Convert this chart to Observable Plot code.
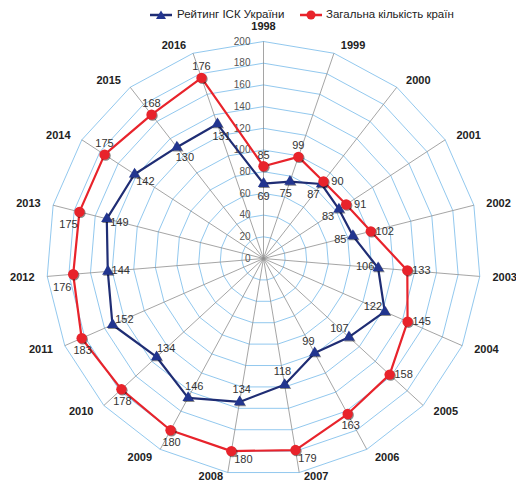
<!DOCTYPE html>
<html><head><meta charset="utf-8">
<script src="https://cdn.jsdelivr.net/npm/d3@7"></script>
<script src="https://cdn.jsdelivr.net/npm/@observablehq/plot@0.6"></script>
<style>
body{margin:0;background:#fff;font-family:"Liberation Sans",Arial,sans-serif}
#legend{position:relative;height:18px;z-index:2;font-size:11.5px;color:#222}
#legend span{position:absolute;white-space:nowrap}
</style>
</head><body>
<div id="legend"></div>
<div id="chart"></div>
<script>
const years = ["1998","1999","2000","2001","2002","2003","2004","2005","2006","2007","2008","2009","2010","2011","2012","2013","2014","2015","2016"];
const rating = [69,75,87,83,85,106,122,107,99,118,134,146,134,152,144,149,142,130,131];
const countries = [85,99,90,91,102,133,145,158,163,179,180,180,178,183,176,175,175,168,176];
const ticks = [0,20,40,60,80,100,120,140,160,180,200];
const seriesNames = ["Рейтинг ІСК України","Загальна кількість країн"];

const BLUE = "#1f2d74", BLUE_FILL = "#22358f", RED = "#e8232b";
const N = years.length;
const PX = 217/200; // pixels per value unit
const ang = i => i * 2 * Math.PI / N;
const pol = (v, i) => ({x: v * Math.sin(ang(i)), y: v * Math.cos(ang(i))});

// legend
const lg = document.getElementById("legend");
lg.innerHTML = `
<span style="left:148px;top:9px"><svg width="26" height="12"><line x1="2" y1="6" x2="24" y2="6" stroke="${BLUE}" stroke-width="2.5"/><path d="M13,1.5 L18,10 L8,10Z" fill="${BLUE_FILL}"/></svg></span>
<span style="left:177px;top:8px">${seriesNames[0]}</span>
<span style="left:298px;top:9px"><svg width="26" height="12"><line x1="2" y1="6" x2="24" y2="6" stroke="${RED}" stroke-width="2.5"/><circle cx="13" cy="6" r="4.5" fill="${RED}"/></svg></span>
<span style="left:326px;top:8px">${seriesNames[1]}</span>`;

// grid rings
const rings = [];
ticks.filter(t => t > 0).forEach(t => {
  for (let i = 0; i <= N; i++) rings.push({t, ...pol(t, i % N)});
});
const spokes = years.map((y, i) => ({...pol(200, i)}));

const mk = (vals) => vals.map((v, i) => ({i, v, ...pol(v, i)}));
const blue = mk(rating), red = mk(countries);
const closed = a => a.concat([a[0]]);

// label offsets (pixels)
function redOff(i) {
  const d = ang(i) * 180 / Math.PI;
  if (d < 30 || d >= 300) return [0, -11];
  if (d < 145) return [14, 0];
  if (d < 160) return [3, 11];
  if (d < 200) return [12, 8];
  if (d < 255) return [1, 12];
  return [-11, 13];
}
function blueOff(i) {
  const a = ang(i);
  return [-13 * Math.sin(a), 13 * Math.cos(a)];
}
const lab = (arr, f) => arr.map(d => { const [ox, oy] = f(d.i); return {text: String(d.v), x: d.x + ox / PX, y: d.y - oy / PX}; });
const redLabels = lab(red, redOff), blueLabels = lab(blue, blueOff);

// year labels
const yl = years.map((y, i) => {
  const c = Math.cos(ang(i)), s = Math.sin(ang(i));
  const p = pol(c < -0.9 ? 204 : 208, i);
  const side = i === 0 ? "m" : (s > 0 ? "s" : "e");
  return {text: y, side, x: p.x + (side === "s" ? 4 : side === "e" ? -4 : 0) / PX, y: p.y + (i === 0 ? 6 / PX : 0)};
});

const chart = Plot.plot({
  width: 516, height: 466,
  marginLeft: 46, marginRight: 36, marginTop: 23, marginBottom: 9,
  x: {domain: [-200, 200], axis: null},
  y: {domain: [-200, 200], axis: null},
  style: {fontFamily: "'Liberation Sans', Arial, sans-serif", overflow: "visible"},
  marks: [
    Plot.line(rings, {x: "x", y: "y", z: "t", stroke: "#86c2ec", strokeWidth: 0.9, curve: "linear"}),
    Plot.link(spokes, {x1: 0, y1: 0, x2: "x", y2: "y", stroke: "#8e8e8e", strokeWidth: 0.8}),
    Plot.text(ticks, {x: 0, y: d => d, text: d => String(d), dx: -13, textAnchor: "end", fontSize: 10, fill: "#555"}),
    Plot.line(closed(blue), {x: "x", y: "y", stroke: BLUE, strokeWidth: 2.2}),
    Plot.dot(blue, {x: "x", y: "y", symbol: "triangle", r: 4.2, fill: "#000", fillOpacity: 0.45, dx: 1, dy: 1}),
    Plot.dot(blue, {x: "x", y: "y", symbol: "triangle", r: 4.2, fill: BLUE_FILL}),
    Plot.line(closed(red), {x: "x", y: "y", stroke: RED, strokeWidth: 2.2}),
    Plot.dot(red, {x: "x", y: "y", r: 5.2, fill: "#000", fillOpacity: 0.45, dx: 1, dy: 1}),
    Plot.dot(red, {x: "x", y: "y", r: 5.2, fill: RED}),
    Plot.text(blueLabels, {x: "x", y: "y", text: "text", fontSize: 11, fill: "#333"}),
    Plot.text(redLabels, {x: "x", y: "y", text: "text", fontSize: 11, fill: "#333"}),
    Plot.text(yl.filter(d => d.side === "m"), {x: "x", y: "y", text: "text", textAnchor: "middle", fontSize: 11, fontWeight: "bold", fill: "#222"}),
    Plot.text(yl.filter(d => d.side === "s"), {x: "x", y: "y", text: "text", textAnchor: "start", fontSize: 11, fontWeight: "bold", fill: "#222"}),
    Plot.text(yl.filter(d => d.side === "e"), {x: "x", y: "y", text: "text", textAnchor: "end", fontSize: 11, fontWeight: "bold", fill: "#222"})
  ]
});
document.getElementById("chart").appendChild(chart);
</script>
</body></html>
